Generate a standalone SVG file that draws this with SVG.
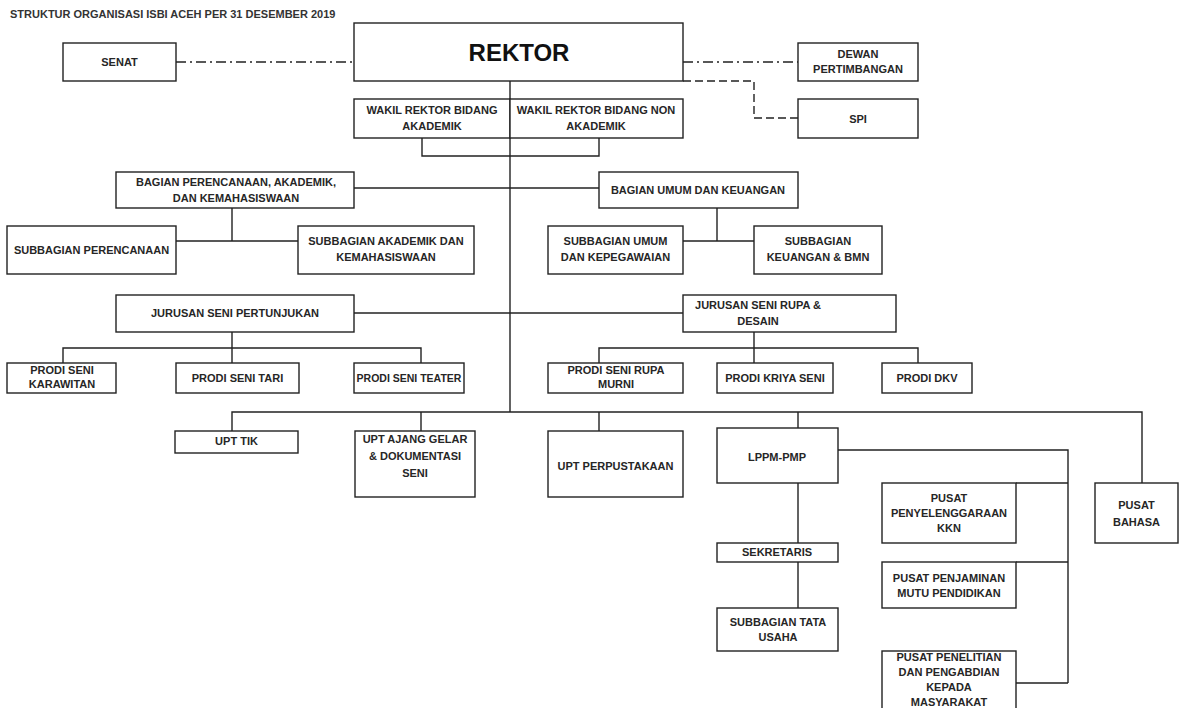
<svg xmlns="http://www.w3.org/2000/svg" width="1179" height="708" viewBox="0 0 1179 708">
<style>
.box{fill:#fff;stroke:#222;stroke-width:1.4}
.t{font-family:"Liberation Sans",Arial,sans-serif;font-weight:bold;font-size:11px;fill:#262626;text-anchor:middle}
.ln{fill:none;stroke:#222;stroke-width:1.4}
.dd{fill:none;stroke:#222;stroke-width:1.4;stroke-dasharray:10,4,2,4}
.ds{fill:none;stroke:#222;stroke-width:1.4;stroke-dasharray:8,4}
</style>
<rect width="1179" height="708" fill="#fff"/>
<text x="10" y="18" style="font-family:'Liberation Sans',Arial,sans-serif;font-weight:bold;font-size:11px;fill:#333">STRUKTUR ORGANISASI ISBI ACEH PER 31 DESEMBER 2019</text>
<g id="connectors">
<path class="dd" d="M176,62H354"/>
<path class="dd" d="M683,62H798"/>
<path class="ds" d="M683,81H754V118H798"/>
<path class="ln" d="M510,81V412"/>
<path class="ln" d="M422,138V156H599V138"/>
<path class="ln" d="M354,188H599"/>
<path class="ln" d="M232,208V241M176,241H298"/>
<path class="ln" d="M717,208V241M683,241H754"/>
<path class="ln" d="M354,313H683"/>
<path class="ln" d="M232,332V363M63,363V348H421V363"/>
<path class="ln" d="M754,332V363M599,363V348H918V363"/>
<path class="ln" d="M232,431V412H1142V483M421,412V431M599,412V431M798,412V428"/>
<path class="ln" d="M798,483V543M798,562V608"/>
<path class="ln" d="M838,450H1068V683M1016,483H1068M1016,562H1068M1016,683H1068"/>
</g>
<g id="senat"><rect class="box" x="63" y="43" width="113" height="38"/><text class="t" x="119.5" y="66">SENAT</text></g>
<g id="rektor"><rect class="box" x="354" y="23" width="329" height="58"/><text class="t" x="519" y="61" style="font-size:24px;fill:#111">REKTOR</text></g>
<g id="dewan"><rect class="box" x="798" y="43" width="120" height="38"/><text class="t" x="858" y="58">DEWAN</text><text class="t" x="858" y="73">PERTIMBANGAN</text></g>
<g id="spi"><rect class="box" x="798" y="99" width="120" height="39"/><text class="t" x="858" y="123">SPI</text></g>
<g id="wr1"><rect class="box" x="354" y="99" width="156" height="39"/><text class="t" x="432" y="114">WAKIL REKTOR BIDANG</text><text class="t" x="432" y="130">AKADEMIK</text></g>
<g id="wr2"><rect class="box" x="510" y="99" width="173" height="39"/><text class="t" x="596" y="114">WAKIL REKTOR BIDANG NON</text><text class="t" x="596" y="130">AKADEMIK</text></g>
<g id="bagian-pak"><rect class="box" x="116" y="172" width="238" height="36"/><text class="t" x="236" y="186">BAGIAN PERENCANAAN, AKADEMIK,</text><text class="t" x="236" y="202">DAN KEMAHASISWAAN</text></g>
<g id="bagian-uk"><rect class="box" x="599" y="172" width="199" height="36"/><text class="t" x="698" y="194">BAGIAN UMUM DAN KEUANGAN</text></g>
<g id="sub-perencanaan"><rect class="box" x="7" y="226" width="169" height="48"/><text class="t" x="91.5" y="254">SUBBAGIAN PERENCANAAN</text></g>
<g id="sub-akademik"><rect class="box" x="298" y="226" width="176" height="48"/><text class="t" x="386" y="245">SUBBAGIAN AKADEMIK DAN</text><text class="t" x="386" y="261">KEMAHASISWAAN</text></g>
<g id="sub-umum"><rect class="box" x="548" y="226" width="135" height="48"/><text class="t" x="615.5" y="245">SUBBAGIAN UMUM</text><text class="t" x="615.5" y="261">DAN KEPEGAWAIAN</text></g>
<g id="sub-keuangan"><rect class="box" x="754" y="226" width="128" height="48"/><text class="t" x="818" y="245">SUBBAGIAN</text><text class="t" x="818" y="261">KEUANGAN &amp; BMN</text></g>
<g id="jsp"><rect class="box" x="116" y="295" width="238" height="37"/><text class="t" x="235" y="317">JURUSAN SENI PERTUNJUKAN</text></g>
<g id="jsrd"><rect class="box" x="683" y="295" width="213" height="37"/><text class="t" x="758" y="309">JURUSAN SENI RUPA &amp;</text><text class="t" x="758" y="325">DESAIN</text></g>
<g id="prodi-karawitan"><rect class="box" x="7" y="363" width="109" height="30"/><text class="t" x="62" y="374">PRODI SENI</text><text class="t" x="62" y="388">KARAWITAN</text></g>
<g id="prodi-tari"><rect class="box" x="176" y="363" width="123" height="30"/><text class="t" x="237.5" y="382">PRODI SENI TARI</text></g>
<g id="prodi-teater"><rect class="box" x="354" y="363" width="110" height="30"/><text class="t" x="409" y="382" style="font-size:10.5px">PRODI SENI TEATER</text></g>
<g id="prodi-rupa"><rect class="box" x="548" y="363" width="135" height="30"/><text class="t" x="616" y="374">PRODI SENI RUPA</text><text class="t" x="616" y="388">MURNI</text></g>
<g id="prodi-kriya"><rect class="box" x="717" y="363" width="116" height="30"/><text class="t" x="775" y="382">PRODI KRIYA SENI</text></g>
<g id="prodi-dkv"><rect class="box" x="882" y="363" width="90" height="30"/><text class="t" x="927" y="382">PRODI DKV</text></g>
<g id="upt-tik"><rect class="box" x="175" y="431" width="123" height="22"/><text class="t" x="236.5" y="445">UPT TIK</text></g>
<g id="upt-ajang"><rect class="box" x="355" y="431" width="120" height="66"/><text class="t" x="415" y="443">UPT AJANG GELAR</text><text class="t" x="415" y="460">&amp; DOKUMENTASI</text><text class="t" x="415" y="477">SENI</text></g>
<g id="upt-perpustakaan"><rect class="box" x="548" y="431" width="135" height="66"/><text class="t" x="615.5" y="470">UPT PERPUSTAKAAN</text></g>
<g id="lppm"><rect class="box" x="717" y="428" width="121" height="55"/><text class="t" x="777" y="461">LPPM-PMP</text></g>
<g id="sekretaris"><rect class="box" x="717" y="543" width="121" height="19"/><text class="t" x="777" y="556">SEKRETARIS</text></g>
<g id="sub-tu"><rect class="box" x="717" y="608" width="121" height="43"/><text class="t" x="778" y="626">SUBBAGIAN TATA</text><text class="t" x="778" y="641">USAHA</text></g>
<g id="pusat-kkn"><rect class="box" x="882" y="483" width="134" height="60"/><text class="t" x="949" y="502">PUSAT</text><text class="t" x="949" y="517">PENYELENGGARAAN</text><text class="t" x="949" y="532">KKN</text></g>
<g id="pusat-mutu"><rect class="box" x="882" y="562" width="134" height="46"/><text class="t" x="949" y="582">PUSAT PENJAMINAN</text><text class="t" x="949" y="597">MUTU PENDIDIKAN</text></g>
<g id="pusat-penelitian"><rect class="box" x="882" y="651" width="134" height="70"/><text class="t" x="949" y="661">PUSAT PENELITIAN</text><text class="t" x="949" y="676">DAN PENGABDIAN</text><text class="t" x="949" y="691">KEPADA</text><text class="t" x="949" y="706">MASYARAKAT</text></g>
<g id="pusat-bahasa"><rect class="box" x="1095" y="483" width="83" height="60"/><text class="t" x="1136.5" y="509">PUSAT</text><text class="t" x="1136.5" y="526">BAHASA</text></g>
</svg>
